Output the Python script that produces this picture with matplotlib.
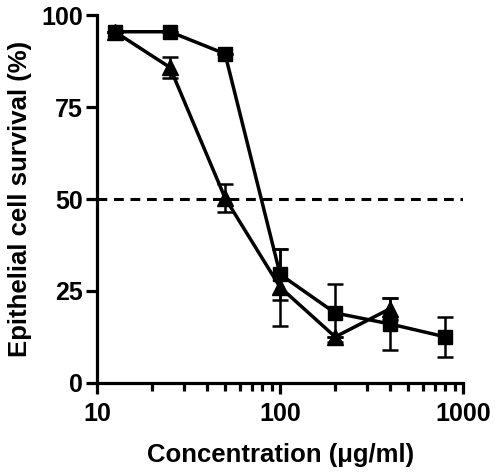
import matplotlib
matplotlib.use("Agg")
import matplotlib.pyplot as plt
from matplotlib.ticker import FixedLocator, LogLocator, NullFormatter

plt.rcParams['font.family'] = ['Liberation Sans', 'DejaVu Sans']
plt.rcParams['font.weight'] = 'bold'

# data
sq_x = [12.5, 25, 50, 100, 200, 400, 800]
sq_y = [95.5, 95.5, 89.5, 29.5, 19.0, 16.0, 12.5]
sq_err = [0, 0, 0, 7.0, 8.0, 7.0, 5.5]

tri_x = [12.5, 25, 50, 100, 200, 400]
tri_y = [95.5, 85.8, 50.3, 26.0, 12.5, 20.2]
tri_err = [0, 2.8, 3.8, 10.5, 0, 3.0]

fig = plt.figure(figsize=(4.98, 4.75), dpi=100)
ax = fig.add_axes([0.195, 0.194, 0.735, 0.774])

ax.axhline(50, color="black", lw=2.2, ls=(0, (3.2, 2.2)), zorder=1)

ax.errorbar(sq_x, sq_y, yerr=sq_err, color="black", marker="s", ms=10,
            lw=2.5, elinewidth=1.8, capsize=6, capthick=1.8, zorder=3)
ax.errorbar(tri_x, tri_y, yerr=tri_err, color="black", marker="^", ms=11,
            lw=2.5, elinewidth=1.8, capsize=6, capthick=1.8, zorder=3)

ax.set_xscale("log")
ax.set_xlim(10, 1000)
ax.set_ylim(0, 100)
ax.set_xticks([10, 100, 1000])
ax.set_xticklabels(["10", "100", "1000"])
ax.xaxis.set_minor_locator(LogLocator(base=10, subs=range(2, 10)))
ax.xaxis.set_minor_formatter(NullFormatter())
ax.yaxis.set_major_locator(FixedLocator([0, 25, 50, 75, 100]))

for s in ["top", "right"]:
    ax.spines[s].set_visible(False)
for s in ["left", "bottom"]:
    ax.spines[s].set_linewidth(2.3)

ax.tick_params(axis="both", which="major", length=8, width=2.3, labelsize=18, pad=2)
ax.tick_params(axis="x", which="major", pad=6)
ax.tick_params(axis="x", which="minor", length=6, width=2.3)
for lab in ax.get_xticklabels() + ax.get_yticklabels():
    lab.set_fontweight("bold")

ax.set_xlabel("Concentration (\u03bcg/ml)", fontsize=18.5, fontweight="bold", labelpad=12)
ax.set_ylabel("Epithelial cell survival (%)", fontsize=18.5, fontweight="bold", labelpad=7)

fig.savefig("out.png", dpi=100)
